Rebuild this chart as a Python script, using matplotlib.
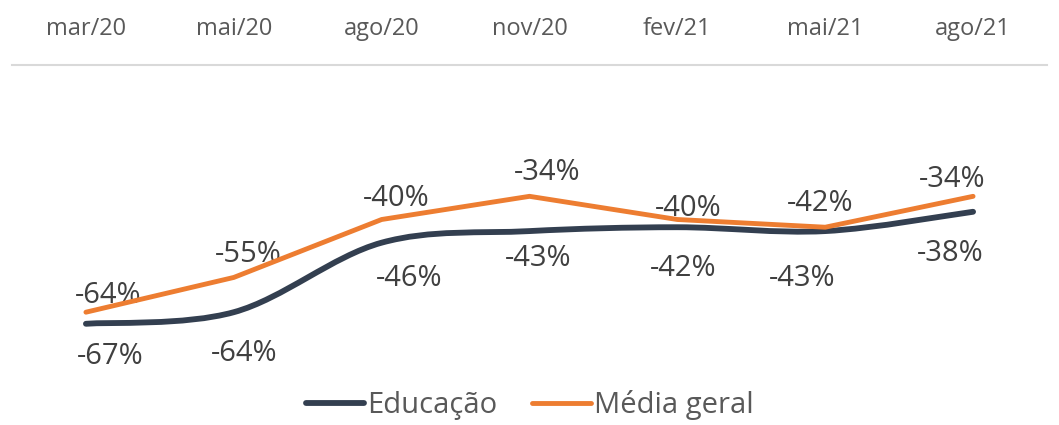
import matplotlib
matplotlib.use("Agg")
import matplotlib.pyplot as plt
from matplotlib.path import Path
from matplotlib.patches import PathPatch
from matplotlib.lines import Line2D

months = ["mar/20", "mai/20", "ago/20", "nov/20", "fev/21", "mai/21", "ago/21"]
educacao = [-67, -64, -46, -43, -42, -43, -38]
media_geral = [-64, -55, -40, -34, -40, -42, -34]

# label nudges (pixels) relative to each point, as placed in the original
edu_nudge = [(24, -29), (10, -38), (28, -32), (9, -24), (6, -38), (-23, -44), (-23, -38)]
med_nudge = [(22, 20), (15, 26), (15, 24), (18, 27), (11, 15), (-5, 27), (-21, 20)]

NAVY = "#333F50"
ORANGE = "#ED7D31"
LABEL = "#404040"
TICK = "#595959"

plt.rcParams["font.family"] = ["Open Sans", "DejaVu Sans"]


def smooth_path(xs, ys):
    # Excel-style smoothed line: cubic bezier with 1/6 tangents
    pts = list(zip(xs, ys))
    n = len(pts)
    verts = [pts[0]]
    codes = [Path.MOVETO]
    for i in range(n - 1):
        p0 = pts[i - 1] if i > 0 else pts[i]
        p1 = pts[i]
        p2 = pts[i + 1]
        p3 = pts[i + 2] if i + 2 < n else pts[i + 1]
        c1 = (p1[0] + (p2[0] - p0[0]) / 6, p1[1] + (p2[1] - p0[1]) / 6)
        c2 = (p2[0] - (p3[0] - p1[0]) / 6, p2[1] - (p3[1] - p1[1]) / 6)
        verts += [c1, c2, p2]
        codes += [Path.CURVE4] * 3
    return Path(verts, codes)


fig = plt.figure(figsize=(10.59, 4.25), dpi=100)
ax = fig.add_axes([12 / 1059, 1 - 374 / 425, 1035 / 1059, 309 / 425])

x = list(range(len(months)))
ax.add_patch(PathPatch(smooth_path(x, educacao), facecolor="none", edgecolor=NAVY,
                       lw=4.2, capstyle="round", joinstyle="round", zorder=3))
ax.plot(x, media_geral, color=ORANGE, lw=3.5, solid_capstyle="round",
        solid_joinstyle="round", zorder=4)

for i, v in enumerate(educacao):
    ax.annotate(f"{v}%", (i, v), xytext=edu_nudge[i], textcoords="offset pixels",
                ha="center", va="center_baseline", fontsize=21, color=LABEL)
for i, v in enumerate(media_geral):
    ax.annotate(f"{v}%", (i, v), xytext=med_nudge[i], textcoords="offset pixels",
                ha="center", va="center_baseline", fontsize=21, color=LABEL)

ax.set_xlim(-0.5, len(months) - 0.5)
ax.set_ylim(-80, 0)
ax.xaxis.tick_top()
ax.set_xticks(x)
ax.set_xticklabels(months, fontsize=17, color=TICK)
ax.tick_params(axis="x", length=0, pad=17.5)
ax.set_yticks([])
for s in ["left", "right", "bottom"]:
    ax.spines[s].set_visible(False)
ax.spines["top"].set_color("#D9D9D9")
ax.spines["top"].set_linewidth(1.5)

handles = [Line2D([], [], color=NAVY, lw=4.2, solid_capstyle="round"),
           Line2D([], [], color=ORANGE, lw=3.5, solid_capstyle="round")]
leg = fig.legend(handles, ["Educação", "Média geral"], loc="center",
                 bbox_to_anchor=(529.5 / 1059, 1 - 405 / 425), ncol=2, frameon=False,
                 fontsize=21, handlelength=2.0, handletextpad=0.1, columnspacing=1.2)
for t in leg.get_texts():
    t.set_color(TICK)

fig.savefig("out.png", dpi=100)
